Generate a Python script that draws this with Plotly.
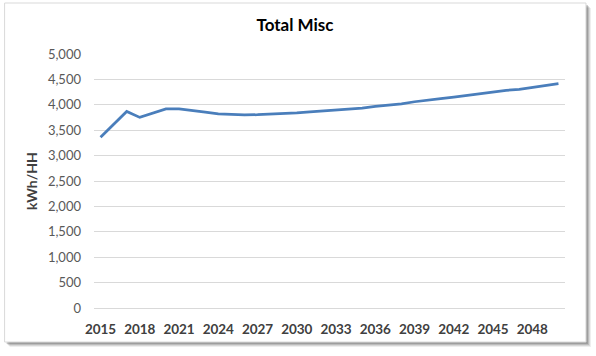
import plotly.graph_objects as go

years = [str(y) for y in range(2015, 2051)]
total_misc = [3362, 3615, 3870, 3752, 3835, 3920, 3918, 3880, 3855, 3820,
              3805, 3800, 3805, 3815, 3825, 3840, 3860, 3880, 3900, 3915,
              3935, 3970, 3995, 4020, 4060, 4085, 4120, 4150, 4185, 4210,
              4245, 4285, 4305, 4340, 4378, 4418]
tick_years = [str(y) for y in range(2015, 2051, 3)]
y_ticks = list(range(0, 5001, 500))
y_tick_text = [f"{v:,}" for v in y_ticks]

W, H = 596, 356
L, R, T, B = 93.5, 565, 54, 308


def px(x):
    return (x - L) / (R - L)


def py(y):
    return (B - y) / (B - T)


shapes = []
# soft shadow
for off, op in [(5, 0.10), (4, 0.15), (3, 0.22), (2, 0.30)]:
    shapes.append(dict(type="rect", xref="paper", yref="paper",
                       x0=px(4 + off), x1=px(586 + off), y0=py(342 + off), y1=py(3 + off),
                       fillcolor=f"rgba(90,90,90,{op})", line=dict(width=0), layer="below"))
shapes.append(dict(type="rect", xref="paper", yref="paper",
                   x0=px(4), x1=px(586), y0=py(342), y1=py(3),
                   fillcolor="white", line=dict(color="#d9d9d9", width=1), layer="below"))

fig = go.Figure()
fig.add_trace(go.Scatter(x=years, y=total_misc, mode="lines",
                         line=dict(color="#4A7EBB", width=2.75),
                         hoverinfo="x+y", showlegend=False))

fig.update_layout(
    width=W, height=H,
    margin=dict(l=L, r=W - R, t=T, b=H - B, pad=0, autoexpand=False),
    paper_bgcolor="white",
    plot_bgcolor="rgba(0,0,0,0)",
    font=dict(family="Lato, Open Sans, sans-serif", color="#595959"),
    title=dict(text="<b>Total Misc</b>", xref="container", yref="container",
               x=295 / W, y=1 - 25 / H, xanchor="center", yanchor="middle",
               font=dict(size=17, color="#000000", family="Lato, sans-serif")),
    shapes=shapes,
    xaxis=dict(type="category", range=[-0.5, len(years) - 0.5], automargin=False,
               tickmode="array", tickvals=tick_years, ticktext=[f"<b>{t}</b>" for t in tick_years],
               showgrid=False, zeroline=False, showline=False, ticks="",
               ticklabelstandoff=11,
               tickfont=dict(size=13.5, color="#404040"), tickangle=0),
    yaxis=dict(range=[0, 5000], tickmode="array", tickvals=y_ticks, ticktext=y_tick_text,
               automargin=False,
               showgrid=True, gridcolor="#d9d9d9", gridwidth=1,
               zeroline=True, zerolinecolor="#d9d9d9", zerolinewidth=1,
               showline=False, ticks="",
               ticklabelstandoff=12,
               tickfont=dict(size=13, color="#595959"),
               title=dict(text="<b>kWh/HH</b>", standoff=6,
                          font=dict(size=14, color="#404040"))),
)

fig.write_html("out.html", config={"displayModeBar": False},
               post_script="document.body.style.margin='0';")
